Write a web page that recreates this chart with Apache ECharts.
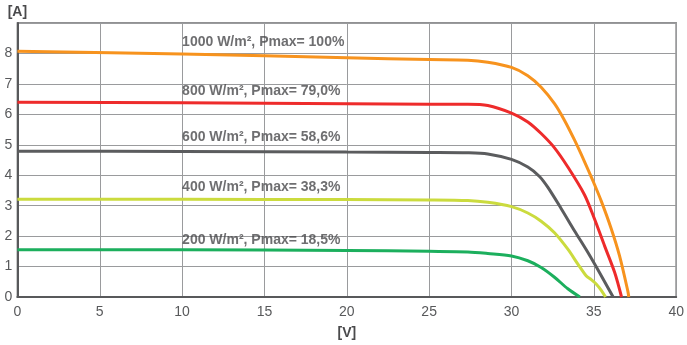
<!DOCTYPE html>
<html><head><meta charset="utf-8">
<script src="https://cdn.jsdelivr.net/npm/echarts@6/dist/echarts.min.js"></script>
<style>html,body{margin:0;padding:0;background:#fff}#c{width:687px;height:345px}</style>
</head><body><div id="c"></div>
<script>
const xTicks = [0,5,10,15,20,25,30,35,40];
const yTicks = [0,1,2,3,4,5,6,7,8];
const v1000 = [0,10,20,25,27.35,28.56,30,30.99,31.8,32.61,33.22,33.83,34.43,34.94,35.45,36.05,36.56,37.06,37.12];
const i1000 = [8.07,7.98,7.86,7.8,7.78,7.71,7.54,7.27,6.89,6.35,5.8,5.15,4.45,3.82,3.15,2.25,1.35,0.2,0];
const v800 = [0,10,20,25,27.35,28.56,30,30.99,31.8,32.61,33.42,34.43,35.04,35.65,36.26,36.68];
const i800 = [6.4,6.38,6.35,6.33,6.33,6.29,6.04,5.75,5.37,4.9,4.27,3.36,2.56,1.68,0.81,0];
const v600 = [0,10,20,25,27.35,28.56,30,30.99,31.7,32.21,33.02,33.83,34.64,35.45,36.17];
const i600 = [4.79,4.78,4.76,4.75,4.74,4.7,4.52,4.27,3.96,3.6,2.9,2.17,1.46,0.7,0];
const v400 = [0,10,20,25,27.35,28.56,30,30.99,31.8,32.61,33.42,34.03,34.53,34.84,35.14,35.45,35.71];
const i400 = [3.21,3.21,3.2,3.19,3.17,3.11,2.97,2.76,2.49,2.11,1.57,1.08,0.7,0.57,0.43,0.22,0];
const v200 = [0,10,20,25,27.35,28.56,30,30.99,31.8,32.61,33.42,34.15];
const i200 = [1.55,1.55,1.53,1.5,1.48,1.43,1.35,1.19,0.97,0.65,0.27,0];
const labelTexts = ['1000 W/m², Pmax= 100%','800 W/m², Pmax= 79,0%','600 W/m², Pmax= 58,6%','400 W/m², Pmax= 38,3%','200 W/m², Pmax= 18,5%'];
const labelV = [10,10,10,10,10];
const labelI = [8.38,6.75,5.25,3.62,1.88];

const colors = ['#F7931E','#EE2B2B','#5B5C5E','#CBDB3E','#1CAF5D'];
const curves = [[v1000,i1000],[v800,i800],[v600,i600],[v400,i400],[v200,i200]];
const font = '"Liberation Sans", Arial, sans-serif';

const series = curves.map((c,k)=>({
  type:'line', data:c[0].map((v,j)=>[v,c[1][j]]), showSymbol:false, smooth:0.3,
  lineStyle:{color:colors[k], width:3}, z:3+k, animation:false
}));
series.push({
  type:'scatter', symbolSize:0, z:10, animation:false,
  data: labelV.map((v,j)=>({value:[v,labelI[j]], name:labelTexts[j]})),
  label:{show:true, position:'right', distance:0, formatter:p=>p.name, color:'#4a4a4c', fontWeight:'bold', fontSize:14, fontFamily:font}
});

const chart = echarts.init(document.getElementById('c'));
chart.setOption({
  animation:false,
  grid:{left:17.4, right:8, top:23, bottom:45.6, show:true, borderColor:'#6d6e70', borderWidth:1.5},
  xAxis:{type:'value', min:xTicks[0], max:xTicks[xTicks.length-1], interval:5,
    axisLine:{show:true, onZero:false, lineStyle:{color:'#58595b', width:2}},
    axisTick:{show:false},
    splitLine:{show:true, lineStyle:{color:'#9a9b9d', width:1}},
    axisLabel:{color:'#58595b', fontSize:14, fontFamily:font, margin:8},
    name:'[V]', nameLocation:'middle', nameGap:29, nameTextStyle:{color:'#4a4a4c', fontWeight:'bold', fontSize:14, fontFamily:font}},
  yAxis:{type:'value', min:0, max:9, interval:1,
    axisLine:{show:true, lineStyle:{color:'#58595b', width:2}},
    axisTick:{show:false},
    splitLine:{show:true, lineStyle:{color:'#9a9b9d', width:1}},
    axisLabel:{color:'#58595b', fontSize:14, fontFamily:font, margin:5, formatter:v=>yTicks.includes(v)?String(v):''},
    name:'[A]', nameLocation:'end', nameGap:4, nameTextStyle:{color:'#4a4a4c', fontWeight:'bold', fontSize:14, fontFamily:font, align:'center'}},
  series
});
</script></body></html>
